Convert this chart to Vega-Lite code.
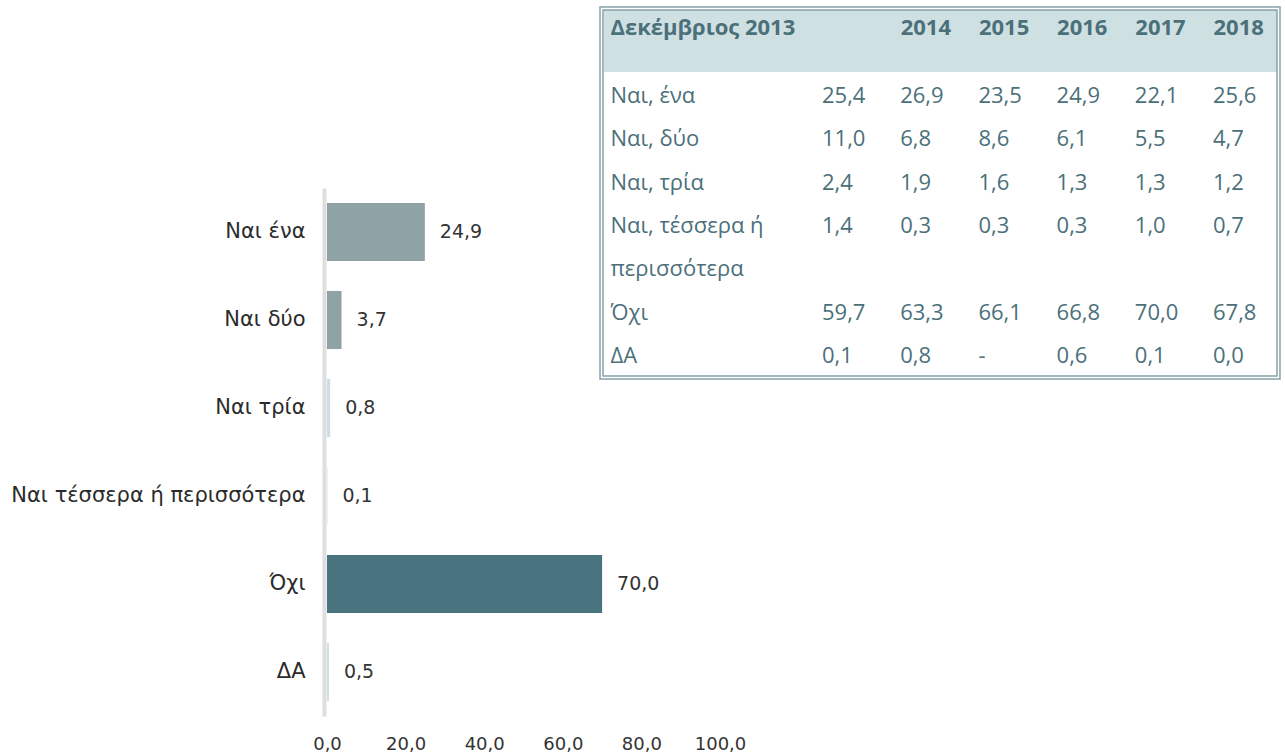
{
  "$schema": "https://vega.github.io/schema/vega-lite/v6.json",
  "autosize": {"type": "none"},
  "width": 1285,
  "height": 756,
  "padding": 0,
  "background": "#ffffff",
  "config": {
    "view": {"stroke": null},
    "locale": {"number": {"decimal": ",", "thousands": ".", "grouping": [3], "currency": ["", " €"]}}
  },
  "datasets": {
    "bars": [
      {"cat": "Ναι ένα", "v": 24.9},
      {"cat": "Ναι δύο", "v": 3.7},
      {"cat": "Ναι τρία", "v": 0.8},
      {"cat": "Ναι τέσσερα ή περισσότερα", "v": 0.1},
      {"cat": "Όχι", "v": 70.0},
      {"cat": "ΔΑ", "v": 0.5}
    ],
    "table": [
      {"row": "Ναι, ένα", "year": "2013", "v": 25.4},
      {"row": "Ναι, ένα", "year": "2014", "v": 26.9},
      {"row": "Ναι, ένα", "year": "2015", "v": 23.5},
      {"row": "Ναι, ένα", "year": "2016", "v": 24.9},
      {"row": "Ναι, ένα", "year": "2017", "v": 22.1},
      {"row": "Ναι, ένα", "year": "2018", "v": 25.6},
      {"row": "Ναι, δύο", "year": "2013", "v": 11.0},
      {"row": "Ναι, δύο", "year": "2014", "v": 6.8},
      {"row": "Ναι, δύο", "year": "2015", "v": 8.6},
      {"row": "Ναι, δύο", "year": "2016", "v": 6.1},
      {"row": "Ναι, δύο", "year": "2017", "v": 5.5},
      {"row": "Ναι, δύο", "year": "2018", "v": 4.7},
      {"row": "Ναι, τρία", "year": "2013", "v": 2.4},
      {"row": "Ναι, τρία", "year": "2014", "v": 1.9},
      {"row": "Ναι, τρία", "year": "2015", "v": 1.6},
      {"row": "Ναι, τρία", "year": "2016", "v": 1.3},
      {"row": "Ναι, τρία", "year": "2017", "v": 1.3},
      {"row": "Ναι, τρία", "year": "2018", "v": 1.2},
      {"row": "Ναι, τέσσερα ή περισσότερα", "year": "2013", "v": 1.4},
      {"row": "Ναι, τέσσερα ή περισσότερα", "year": "2014", "v": 0.3},
      {"row": "Ναι, τέσσερα ή περισσότερα", "year": "2015", "v": 0.3},
      {"row": "Ναι, τέσσερα ή περισσότερα", "year": "2016", "v": 0.3},
      {"row": "Ναι, τέσσερα ή περισσότερα", "year": "2017", "v": 1.0},
      {"row": "Ναι, τέσσερα ή περισσότερα", "year": "2018", "v": 0.7},
      {"row": "Όχι", "year": "2013", "v": 59.7},
      {"row": "Όχι", "year": "2014", "v": 63.3},
      {"row": "Όχι", "year": "2015", "v": 66.1},
      {"row": "Όχι", "year": "2016", "v": 66.8},
      {"row": "Όχι", "year": "2017", "v": 70.0},
      {"row": "Όχι", "year": "2018", "v": 67.8},
      {"row": "ΔΑ", "year": "2013", "v": 0.1},
      {"row": "ΔΑ", "year": "2014", "v": 0.8},
      {"row": "ΔΑ", "year": "2015", "v": null},
      {"row": "ΔΑ", "year": "2016", "v": 0.6},
      {"row": "ΔΑ", "year": "2017", "v": 0.1},
      {"row": "ΔΑ", "year": "2018", "v": 0.0}
    ],
    "frame": [{"part": "table frame"}]
  },
  "layer": [
    {
      "data": {"name": "bars"},
      "layer": [
        {
          "mark": {"type": "bar"},
          "encoding": {
            "y": {
              "field": "cat", "type": "nominal",
              "scale": {"type": "band", "domain": ["Ναι ένα", "Ναι δύο", "Ναι τρία", "Ναι τέσσερα ή περισσότερα", "Όχι", "ΔΑ"], "range": [188, 716], "paddingInner": 0.34, "paddingOuter": 0.17},
              "axis": {"orient": "left", "offset": -324, "title": null, "grid": false, "domain": true, "domainColor": "#dedede", "domainWidth": 4, "ticks": false, "tickSize": 0, "labelPadding": 19, "labelFont": "DejaVu Sans", "labelFontSize": 21, "labelColor": "#2b2b2b", "labelLimit": 500}
            },
            "x": {
              "field": "v", "type": "quantitative",
              "scale": {"domain": [0, 100], "range": [327, 720], "nice": false, "zero": true},
              "axis": {"orient": "bottom", "offset": -36, "values": [0, 20, 40, 60, 80, 100], "format": ".1f", "title": null, "grid": false, "domain": false, "ticks": false, "tickSize": 0, "labelPadding": 15, "labelFlush": false, "labelOverlap": false, "labelFont": "DejaVu Sans", "labelFontSize": 18, "labelColor": "#333333"}
            },
            "color": {
              "field": "cat", "type": "nominal",
              "scale": {"domain": ["Ναι ένα", "Ναι δύο", "Ναι τρία", "Ναι τέσσερα ή περισσότερα", "Όχι", "ΔΑ"], "range": ["#8fa3a7", "#8fa3a7", "#cddfe4", "#cddfe4", "#4a7380", "#cddfe4"]},
              "legend": null
            }
          }
        },
        {
          "mark": {"type": "text", "align": "left", "baseline": "middle", "dx": 15, "font": "DejaVu Sans", "fontSize": 19, "color": "#333333"},
          "encoding": {
            "y": {"field": "cat", "type": "nominal"},
            "x": {"field": "v", "type": "quantitative"},
            "text": {"field": "v", "type": "quantitative", "format": ".1f"}
          }
        }
      ]
    },
    {
      "data": {"name": "frame"},
      "layer": [
        {
          "mark": {"type": "rect", "fill": "#cfe0e3", "xOffset": 4, "x2Offset": -3, "yOffset": 3},
          "encoding": {
            "x": {"datum": 0, "type": "quantitative", "scale": {"domain": [0, 1], "range": [600, 1280], "nice": false, "zero": false}, "axis": null},
            "x2": {"datum": 1},
            "y": {"datum": 0, "type": "quantitative", "scale": {"domain": [0, 1], "range": [7, 379], "nice": false, "zero": false}, "axis": null},
            "y2": {"datum": 0.175}
          }
        },
        {
          "mark": {"type": "rect", "filled": false, "stroke": "#86a1a8", "strokeWidth": 1.5},
          "encoding": {
            "x": {"datum": 0, "type": "quantitative"},
            "x2": {"datum": 1},
            "y": {"datum": 0, "type": "quantitative"},
            "y2": {"datum": 1}
          }
        },
        {
          "mark": {"type": "rect", "filled": false, "stroke": "#86a1a8", "strokeWidth": 1.5, "xOffset": 3, "x2Offset": -3, "yOffset": 3, "y2Offset": -3},
          "encoding": {
            "x": {"datum": 0, "type": "quantitative"},
            "x2": {"datum": 1},
            "y": {"datum": 0, "type": "quantitative"},
            "y2": {"datum": 1}
          }
        }
      ]
    },
    {
      "data": {"name": "table"},
      "layer": [
        {
          "mark": {"type": "text", "align": "left", "baseline": "middle", "font": "Open Sans", "fontSize": 22, "color": "#4b707a"},
          "encoding": {
            "x": {
              "field": "year", "type": "ordinal",
              "scale": {"type": "point", "domain": ["2013", "2014", "2015", "2016", "2017", "2018"], "range": [822, 1213], "padding": 0},
              "axis": {"orient": "top", "offset": -27, "zindex": 2, "values": ["2014", "2015", "2016", "2017", "2018"], "title": null, "grid": false, "domain": false, "ticks": false, "tickSize": 0, "labelPadding": 0, "labelAngle": 0, "labelAlign": "left", "labelBaseline": "middle", "labelOverlap": false, "labelFont": "Open Sans", "labelFontSize": 22, "labelFontWeight": "bold", "labelColor": "#4b707a"}
            },
            "y": {
              "field": "row", "type": "nominal",
              "scale": {"type": "band", "domain": ["Ναι, ένα", "Ναι, δύο", "Ναι, τρία", "Ναι, τέσσερα ή περισσότερα", "περισσότερα", "Όχι", "ΔΑ"], "range": [74, 378], "paddingInner": 0, "paddingOuter": 0},
              "axis": {"orient": "left", "offset": -610, "zindex": 2, "grid": false, "domain": false, "ticks": false, "tickSize": 0, "labelPadding": 0, "labelAlign": "left", "labelBaseline": "middle", "labelOverlap": false, "labelLimit": 500, "labelFont": "Open Sans", "labelFontSize": 22, "labelColor": "#4b707a", "labelExpr": "datum.value == 'Ναι, τέσσερα ή περισσότερα' ? 'Ναι, τέσσερα ή' : datum.value", "title": "Δεκέμβριος 2013", "titleAngle": 0, "titleAlign": "left", "titleBaseline": "middle", "titleX": 0, "titleY": 27, "titleLimit": 500, "titleFont": "Open Sans", "titleFontSize": 22, "titleFontWeight": "bold", "titleColor": "#4b707a"}
            },
            "text": {"condition": {"test": "datum.v === null", "value": "-"}, "field": "v", "type": "quantitative", "format": ".1f"}
          }
        }
      ]
    }
  ],
  "resolve": {
    "scale": {"x": "independent", "y": "independent", "color": "independent"},
    "axis": {"x": "independent", "y": "independent"}
  }
}
